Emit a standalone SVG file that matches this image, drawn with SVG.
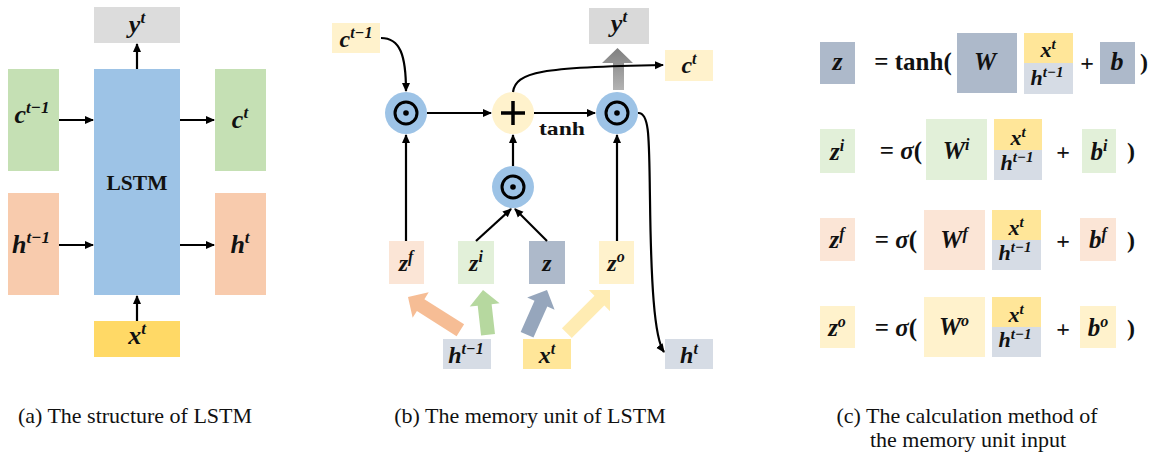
<svg xmlns="http://www.w3.org/2000/svg" width="1153" height="458" viewBox="0 0 1153 458">
<style>
.m{font-family:"Liberation Serif","DejaVu Serif",serif;font-weight:bold;font-style:italic;fill:#111;text-anchor:middle}
.b{font-family:"Liberation Serif","DejaVu Serif",serif;font-weight:bold;fill:#111;text-anchor:middle}
.cap{font-family:"Liberation Serif","DejaVu Serif",serif;font-size:22px;fill:#111;text-anchor:middle}
.ln{fill:none;stroke:#000;stroke-width:2.2}
.ring{fill:none;stroke:#000;stroke-width:3}
</style>
<defs>
<marker id="ah" markerWidth="10" markerHeight="10" refX="8" refY="5" orient="auto" markerUnits="userSpaceOnUse">
<path d="M0,1 L9,5 L0,9 Z" fill="#000"/>
</marker>
<linearGradient id="gg" x1="0" y1="0" x2="0" y2="1">
<stop offset="0" stop-color="#7f7f7f"/>
<stop offset="1" stop-color="#b3b3b3"/>
</linearGradient>
</defs>

<!-- Panel a -->
<g id="a-yt"><rect x="94" y="7" width="86" height="36" fill="#dcdcdc"/><text class="m" x="137" y="33" font-size="26">y<tspan font-size="17" dy="-10">t</tspan></text></g>
<g id="a-lstm"><rect x="94" y="69" width="86" height="226" fill="#9dc3e6"/><text class="b" x="137" y="190" font-size="21.5">LSTM</text></g>
<g id="a-ct1"><rect x="8" y="69" width="51" height="102" fill="#c5e0b4"/><text class="m" x="32" y="123" font-size="26">c<tspan font-size="17" dy="-10">t−1</tspan></text></g>
<g id="a-ht1"><rect x="8" y="193" width="51" height="102" fill="#f8cbad"/><text class="m" x="31" y="253" font-size="26">h<tspan font-size="17" dy="-10">t−1</tspan></text></g>
<g id="a-ct"><rect x="215" y="69" width="51" height="102" fill="#c5e0b4"/><text class="m" x="240" y="128" font-size="26">c<tspan font-size="17" dy="-10">t</tspan></text></g>
<g id="a-ht"><rect x="215" y="193" width="51" height="102" fill="#f8cbad"/><text class="m" x="240" y="253" font-size="26">h<tspan font-size="17" dy="-10">t</tspan></text></g>
<g id="a-xt"><rect x="94" y="321" width="86" height="36" fill="#ffd966"/><text class="m" x="137" y="344" font-size="26">x<tspan font-size="17" dy="-10">t</tspan></text></g>

<!-- Panel b nodes -->
<g id="b-ct1"><rect x="332" y="23" width="48" height="30" fill="#fff2cc"/><text class="m" x="356" y="47" font-size="24">c<tspan font-size="16" dy="-9">t−1</tspan></text></g>
<g id="b-yt"><rect x="589" y="8" width="60" height="36" fill="#d9d9d9"/><text class="m" x="619" y="32" font-size="26">y<tspan font-size="17" dy="-10">t</tspan></text></g>
<g id="b-ct"><rect x="665" y="50" width="48" height="31" fill="#fff2cc"/><text class="m" x="689" y="73" font-size="24">c<tspan font-size="16" dy="-9">t</tspan></text></g>
<g id="b-ht"><rect x="665" y="339" width="48" height="30" fill="#d6dce5"/><text class="m" x="689" y="363" font-size="24">h<tspan font-size="16" dy="-9">t</tspan></text></g>
<g id="b-htm1"><rect x="443" y="339" width="48" height="30" fill="#d6dce5"/><text class="m" x="466" y="363" font-size="24">h<tspan font-size="16" dy="-9">t−1</tspan></text></g>
<g id="b-xt"><rect x="523" y="339" width="48" height="30" fill="#ffe699"/><text class="m" x="547" y="363" font-size="24">x<tspan font-size="16" dy="-9">t</tspan></text></g>
<g id="b-zf"><rect x="389" y="241" width="35" height="43" fill="#fbe5d6"/><text class="m" x="406" y="271" font-size="24">z<tspan font-size="16" dy="-9">f</tspan></text></g>
<g id="b-zi"><rect x="458" y="241" width="36" height="43" fill="#e2f0d9"/><text class="m" x="476" y="271" font-size="24">z<tspan font-size="16" dy="-9">i</tspan></text></g>
<g id="b-z"><rect x="529" y="241" width="36" height="43" fill="#adb9ca"/><text class="m" x="547" y="271" font-size="24">z</text></g>
<g id="b-zo"><rect x="599" y="241" width="35" height="43" fill="#fff2cc"/><text class="m" x="616" y="271" font-size="24">z<tspan font-size="16" dy="-9">o</tspan></text></g>
<g id="b-m1"><circle cx="406" cy="113" r="21" fill="#9dc3e6"/><circle cx="406" cy="113" r="11" class="ring"/><circle cx="406" cy="113" r="2.8" fill="#000"/></g>
<g id="b-plus"><circle cx="513" cy="113" r="21" fill="#fff2cc"/><path d="M501 113 H525 M513 101 V125" stroke="#000" stroke-width="3.5"/></g>
<g id="b-m3"><circle cx="617" cy="113" r="21" fill="#9dc3e6"/><circle cx="617" cy="113" r="11" class="ring"/><circle cx="617" cy="113" r="2.8" fill="#000"/></g>
<g id="b-m2"><circle cx="513" cy="187" r="21" fill="#9dc3e6"/><circle cx="513" cy="187" r="11" class="ring"/><circle cx="513" cy="187" r="2.8" fill="#000"/></g>
<text class="b" x="562" y="135" font-size="19" textLength="46" lengthAdjust="spacingAndGlyphs">tanh</text>

<!-- Panel c -->
<g id="c-row1">
<rect x="820" y="42" width="35" height="42" fill="#adb9ca"/><text class="m" x="837.5" y="70" font-size="26">z</text>
<text class="b" x="913" y="70" font-size="25">= tanh(</text>
<rect x="957" y="33" width="60" height="60" fill="#adb9ca"/><text class="m" x="985" y="70" font-size="25">W</text>
<rect x="1024" y="33" width="49" height="30" fill="#ffe699"/><text class="m" x="1048" y="57" font-size="22">x<tspan font-size="15" dy="-8">t</tspan></text>
<rect x="1024" y="63" width="49" height="31" fill="#d6dce5"/><text class="m" x="1047" y="85" font-size="22">h<tspan font-size="15" dy="-8">t−1</tspan></text>
<text class="b" x="1087" y="71" font-size="24">+</text>
<rect x="1100" y="42" width="35" height="42" fill="#adb9ca"/><text class="m" x="1117" y="70" font-size="26">b</text>
<text class="b" x="1144" y="70" font-size="24">)</text>
</g>
<g id="c-row2">
<rect x="820" y="129" width="35" height="44" fill="#e2f0d9"/><text class="m" x="837" y="160" font-size="25">z<tspan font-size="16" dy="-9">i</tspan></text>
<text class="b" x="901" y="159" font-size="25">= <tspan font-style="italic">σ</tspan>(</text>
<rect x="926" y="119" width="61" height="61" fill="#e2f0d9"/><text class="m" x="956" y="159" font-size="25">W<tspan font-size="16" dy="-9">i</tspan></text>
<rect x="994" y="119" width="48" height="31" fill="#ffe699"/><text class="m" x="1018" y="145" font-size="22">x<tspan font-size="15" dy="-8">t</tspan></text>
<rect x="994" y="150" width="48" height="30" fill="#d6dce5"/><text class="m" x="1017" y="170" font-size="22">h<tspan font-size="15" dy="-8">t−1</tspan></text>
<text class="b" x="1063" y="160" font-size="24">+</text>
<rect x="1082" y="129" width="34" height="44" fill="#e2f0d9"/><text class="m" x="1099" y="160" font-size="25">b<tspan font-size="16" dy="-9">i</tspan></text>
<text class="b" x="1131" y="159" font-size="24">)</text>
</g>
<g id="c-row3">
<rect x="820" y="218" width="35" height="43" fill="#fbe5d6"/><text class="m" x="837" y="248" font-size="25">z<tspan font-size="16" dy="-9">f</tspan></text>
<text class="b" x="896" y="248" font-size="25">= <tspan font-style="italic">σ</tspan>(</text>
<rect x="924" y="210" width="61" height="60" fill="#fbe5d6"/><text class="m" x="954" y="248" font-size="25">W<tspan font-size="16" dy="-9">f</tspan></text>
<rect x="992" y="210" width="49" height="30" fill="#ffe699"/><text class="m" x="1016" y="235" font-size="22">x<tspan font-size="15" dy="-8">t</tspan></text>
<rect x="992" y="240" width="49" height="30" fill="#d6dce5"/><text class="m" x="1015" y="260" font-size="22">h<tspan font-size="15" dy="-8">t−1</tspan></text>
<text class="b" x="1063" y="249" font-size="24">+</text>
<rect x="1080" y="218" width="36" height="43" fill="#fbe5d6"/><text class="m" x="1098" y="248" font-size="25">b<tspan font-size="16" dy="-9">f</tspan></text>
<text class="b" x="1131" y="248" font-size="24">)</text>
</g>
<g id="c-row4">
<rect x="820" y="306" width="35" height="42" fill="#fff2cc"/><text class="m" x="837" y="336" font-size="25">z<tspan font-size="16" dy="-9">o</tspan></text>
<text class="b" x="896" y="336" font-size="25">= <tspan font-style="italic">σ</tspan>(</text>
<rect x="924" y="297" width="61" height="60" fill="#fff2cc"/><text class="m" x="954" y="335" font-size="25">W<tspan font-size="16" dy="-9">o</tspan></text>
<rect x="992" y="297" width="49" height="30" fill="#ffe699"/><text class="m" x="1016" y="322" font-size="22">x<tspan font-size="15" dy="-8">t</tspan></text>
<rect x="992" y="327" width="49" height="30" fill="#d6dce5"/><text class="m" x="1015" y="347" font-size="22">h<tspan font-size="15" dy="-8">t−1</tspan></text>
<text class="b" x="1063" y="337" font-size="24">+</text>
<rect x="1080" y="306" width="36" height="42" fill="#fff2cc"/><text class="m" x="1098" y="336" font-size="25">b<tspan font-size="16" dy="-9">o</tspan></text>
<text class="b" x="1131" y="336" font-size="24">)</text>
</g>

<!-- Connectors -->
<g id="connectors">
<path class="ln" marker-end="url(#ah)" d="M59 120 H93"/>
<path class="ln" marker-end="url(#ah)" d="M59 245 H93"/>
<path class="ln" marker-end="url(#ah)" d="M180 120 H214"/>
<path class="ln" marker-end="url(#ah)" d="M180 245 H214"/>
<path class="ln" marker-end="url(#ah)" d="M137 69 V44"/>
<path class="ln" marker-end="url(#ah)" d="M137 321 V296"/>

<path d="M613 90 V63 H602 L617.5 48 L633 63 H624 V90 Z" fill="url(#gg)"/>
<path class="ln" marker-end="url(#ah)" d="M381 38 C400 38 406 55 406 91"/>
<path class="ln" marker-end="url(#ah)" d="M427 113 H491"/>
<path class="ln" marker-end="url(#ah)" d="M534 113 H595"/>
<path class="ln" marker-end="url(#ah)" d="M513 92 C516 72 540 67 663 65"/>
<path class="ln" marker-end="url(#ah)" d="M638 113 C650 112 649 140 650 200 C651 280 654 338 664 352"/>
<path class="ln" marker-end="url(#ah)" d="M406 241 V135"/>
<path class="ln" marker-end="url(#ah)" d="M617 241 V135"/>
<path class="ln" marker-end="url(#ah)" d="M513 166 V135"/>
<path class="ln" marker-end="url(#ah)" d="M476 241 L511 209"/>
<path class="ln" marker-end="url(#ah)" d="M547 241 L515 209"/>

<path d="M0 0 L15 15 H7 V62 H-7 V15 H-15 Z" fill="#f4b183" fill-opacity="0.85" transform="translate(408 297) rotate(-57.6)"/>
<path d="M0 0 L15 15 H7 V45 H-7 V15 H-15 Z" fill="#a9d18e" fill-opacity="0.85" transform="translate(483 290) rotate(-6.4)"/>
<path d="M0 0 L15 15 H7 V49 H-7 V15 H-15 Z" fill="#8497b0" fill-opacity="0.85" transform="translate(547 290) rotate(24)"/>
<path d="M0 0 L15 15 H7 V61 H-7 V15 H-15 Z" fill="#ffe699" fill-opacity="0.75" transform="translate(610 290) rotate(45)"/>
</g>

<!-- Captions -->
<text class="cap" x="135" y="423">(a) The structure of LSTM</text>
<text class="cap" x="530" y="423">(b) The memory unit of LSTM</text>
<text class="cap" x="967" y="423">(c) The calculation method of</text>
<text class="cap" x="968" y="447">the memory unit input</text>
</svg>
